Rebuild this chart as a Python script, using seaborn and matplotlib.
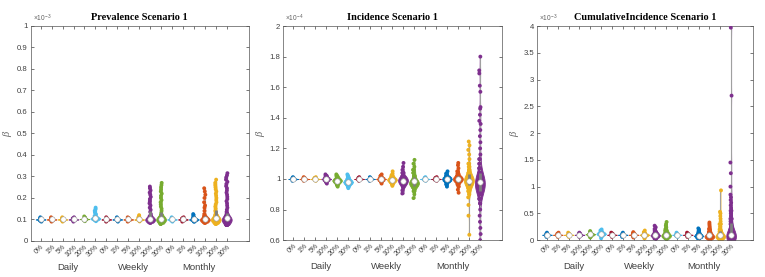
import numpy as np
import pandas as pd
import matplotlib
matplotlib.use("Agg")
import matplotlib.pyplot as plt
import matplotlib.transforms as mtransforms
import seaborn as sns

groups = ["Daily", "Weekly", "Monthly"]
pcts = ["0%", "1%", "5%", "10%", "20%", "30%"]
# matlab default colour order, cycled over the 18 violins
mcolors = ["#0072BD", "#D95319", "#EDB120", "#7E2F8E", "#77AC30", "#4DBEEE", "#A2142F"]

titles = ["Prevalence Scenario 1", "Incidence Scenario 1", "CumulativeIncidence Scenario 1"]
exponents = ["-3", "-4", "-3"]
ylims = [(0, 1), (0.6, 2), (0, 4)]
yticks = [
    [0, 0.1, 0.2, 0.3, 0.4, 0.5, 0.6, 0.7, 0.8, 0.9, 1],
    [0.6, 0.8, 1, 1.2, 1.4, 1.6, 1.8, 2],
    [0, 0.5, 1, 1.5, 2, 2.5, 3, 3.5, 4],
]

# Prevalence (x1e-3): sample levels and how many samples sit at each level
prev_levels = [
    [0.09, 0.095, 0.1, 0.105, 0.11],
    [0.09, 0.095, 0.1, 0.105, 0.11],
    [0.09, 0.095, 0.1, 0.105, 0.11],
    [0.09, 0.095, 0.1, 0.105, 0.11],
    [0.092, 0.097, 0.102, 0.107, 0.114],
    [0.092, 0.098, 0.104, 0.11, 0.116, 0.124, 0.132, 0.14, 0.148, 0.155],
    [0.09, 0.095, 0.1, 0.105, 0.11],
    [0.09, 0.095, 0.1, 0.105, 0.11],
    [0.09, 0.095, 0.1, 0.105, 0.11],
    [0.091, 0.096, 0.1, 0.105, 0.11, 0.115, 0.12],
    [0.085, 0.092, 0.1, 0.108, 0.115, 0.125, 0.135, 0.145, 0.155, 0.165, 0.175, 0.185,
     0.195, 0.205, 0.215, 0.225, 0.235, 0.245, 0.253],
    [0.08, 0.09, 0.1, 0.11, 0.12, 0.13, 0.14, 0.15, 0.16, 0.17, 0.18, 0.19, 0.2, 0.21,
     0.22, 0.23, 0.24, 0.25, 0.26, 0.27],
    [0.09, 0.095, 0.1, 0.105, 0.11],
    [0.09, 0.095, 0.1, 0.105, 0.11],
    [0.09, 0.095, 0.1, 0.105, 0.11, 0.117, 0.125],
    [0.085, 0.092, 0.1, 0.108, 0.115, 0.125, 0.14, 0.155, 0.165, 0.18, 0.2, 0.215, 0.23, 0.245],
    [0.08, 0.09, 0.1, 0.11, 0.12, 0.13, 0.14, 0.15, 0.16, 0.17, 0.18, 0.19, 0.2, 0.21,
     0.22, 0.23, 0.24, 0.25, 0.26, 0.27, 0.285],
    [0.074, 0.085, 0.095, 0.105, 0.115, 0.125, 0.135, 0.145, 0.155, 0.165, 0.175, 0.185,
     0.195, 0.205, 0.215, 0.225, 0.235, 0.245, 0.255, 0.265, 0.275, 0.285, 0.295, 0.305, 0.315],
]
prev_counts = [
    [1, 3, 6, 3, 1],
    [1, 3, 6, 3, 1],
    [1, 3, 6, 3, 1],
    [1, 3, 6, 3, 1],
    [1, 3, 6, 3, 1],
    [1, 3, 6, 3, 2, 1, 1, 1, 1, 1],
    [1, 3, 6, 3, 1],
    [1, 3, 6, 3, 1],
    [1, 3, 6, 3, 1],
    [1, 3, 6, 3, 2, 1, 1],
    [4, 8, 12, 6, 3, 1, 1, 1, 1, 1, 1, 1, 1, 1, 1, 1, 1, 1, 1],
    [5, 9, 14, 8, 4, 1, 1, 1, 1, 1, 1, 1, 1, 1, 1, 1, 1, 1, 1, 1],
    [1, 3, 6, 3, 1],
    [1, 3, 6, 3, 1],
    [2, 4, 6, 4, 2, 1, 1],
    [4, 8, 12, 6, 3, 1, 1, 1, 1, 1, 1, 1, 1, 1],
    [5, 9, 14, 8, 4, 1, 1, 1, 1, 1, 1, 1, 1, 1, 1, 1, 1, 1, 1, 1, 1],
    [6, 10, 14, 14, 8, 4, 1, 1, 1, 1, 1, 1, 1, 1, 1, 1, 1, 1, 1, 1, 1, 1, 1, 1, 1],
]

# Incidence (x1e-4)
inc_levels = [
    [0.988, 0.994, 1.0, 1.006, 1.012],
    [0.988, 0.994, 1.0, 1.006, 1.012],
    [0.988, 0.994, 1.0, 1.006, 1.012],
    [0.97, 0.98, 0.99, 1.0, 1.01, 1.02, 1.03],
    [0.95, 0.96, 0.97, 0.98, 0.99, 1.0, 1.01, 1.02, 1.03],
    [0.94, 0.95, 0.96, 0.97, 0.98, 0.99, 1.0, 1.01, 1.02, 1.03],
    [0.988, 0.994, 1.0, 1.006, 1.012],
    [0.988, 0.994, 1.0, 1.006, 1.012],
    [0.97, 0.98, 0.99, 1.0, 1.01, 1.02, 1.03],
    [0.955, 0.965, 0.975, 0.985, 0.995, 1.005, 1.015, 1.025, 1.035, 1.05],
    [0.905, 0.925, 0.945, 0.96, 0.975, 0.99, 1.005, 1.02, 1.04, 1.06, 1.08, 1.105],
    [0.875, 0.9, 0.92, 0.94, 0.955, 0.97, 0.985, 1.0, 1.02, 1.04, 1.06, 1.08, 1.1, 1.125],
    [0.988, 0.994, 1.0, 1.006, 1.012],
    [0.988, 0.994, 1.0, 1.006, 1.012],
    [0.95, 0.965, 0.98, 0.99, 1.0, 1.01, 1.02, 1.035, 1.05],
    [0.91, 0.93, 0.95, 0.965, 0.98, 0.99, 1.0, 1.01, 1.02, 1.035, 1.05, 1.07, 1.09, 1.105],
    [0.635, 0.76, 0.83, 0.88, 0.9, 0.92, 0.94, 0.96, 0.975, 0.99, 1.005, 1.02, 1.04, 1.06,
     1.08, 1.1, 1.13, 1.16, 1.19, 1.22, 1.245],
    [0.52, 0.56, 0.6, 0.64, 0.68, 0.72, 0.76, 0.8, 0.84, 0.87, 0.9, 0.92, 0.94, 0.96, 0.98,
     1.0, 1.02, 1.04, 1.07, 1.1, 1.13, 1.16, 1.2, 1.24, 1.28, 1.32, 1.36, 1.38, 1.42, 1.46,
     1.47, 1.57, 1.61, 1.69, 1.71, 1.8],
]
inc_counts = [
    [1, 3, 6, 3, 1],
    [1, 3, 6, 3, 1],
    [1, 3, 6, 3, 1],
    [1, 2, 4, 6, 4, 2, 1],
    [1, 2, 3, 5, 6, 5, 3, 2, 1],
    [1, 2, 3, 5, 6, 5, 3, 2, 1, 1],
    [1, 3, 6, 3, 1],
    [1, 3, 6, 3, 1],
    [1, 2, 4, 6, 4, 2, 1],
    [1, 2, 3, 5, 6, 5, 3, 2, 1, 1],
    [1, 1, 2, 4, 6, 7, 6, 4, 2, 1, 1, 1],
    [1, 1, 2, 3, 5, 7, 6, 4, 3, 2, 2, 1, 1, 1],
    [1, 3, 6, 3, 1],
    [1, 3, 6, 3, 1],
    [1, 2, 4, 6, 7, 6, 4, 2, 1],
    [1, 1, 2, 3, 5, 6, 7, 6, 5, 3, 2, 1, 1, 1],
    [1, 1, 1, 1, 2, 3, 4, 6, 7, 8, 7, 6, 4, 3, 2, 2, 1, 1, 1, 1, 1],
    [1, 1, 1, 1, 1, 1, 1, 1, 2, 3, 4, 6, 8, 9, 9, 8, 6, 4, 3, 2, 2, 1, 1, 1, 1, 1, 1, 1,
     1, 1, 1, 1, 1, 1, 1, 1],
]

# Cumulative incidence (x1e-3)
cum_levels = [
    [0.06, 0.08, 0.1, 0.12, 0.14],
    [0.06, 0.08, 0.1, 0.12, 0.14],
    [0.06, 0.08, 0.1, 0.12, 0.14],
    [0.06, 0.08, 0.1, 0.12, 0.14],
    [0.05, 0.07, 0.09, 0.11, 0.13, 0.15, 0.17],
    [0.035, 0.06, 0.08, 0.1, 0.12, 0.14, 0.16, 0.18, 0.2],
    [0.06, 0.08, 0.1, 0.12, 0.14],
    [0.06, 0.08, 0.1, 0.12, 0.14],
    [0.05, 0.075, 0.1, 0.125, 0.15],
    [0.03, 0.06, 0.08, 0.1, 0.12, 0.15, 0.18],
    [0.0, 0.03, 0.06, 0.09, 0.12, 0.15, 0.18, 0.21, 0.24, 0.27],
    [0.0, 0.03, 0.06, 0.09, 0.12, 0.15, 0.18, 0.21, 0.24, 0.27, 0.3, 0.34],
    [0.06, 0.08, 0.1, 0.12, 0.14],
    [0.06, 0.08, 0.1, 0.12, 0.14],
    [0.02, 0.05, 0.08, 0.11, 0.14, 0.17, 0.2, 0.22],
    [0.0, 0.03, 0.06, 0.09, 0.12, 0.15, 0.18, 0.21, 0.24, 0.27, 0.3, 0.33],
    [0.0, 0.03, 0.06, 0.09, 0.12, 0.16, 0.2, 0.25, 0.3, 0.35, 0.4, 0.45, 0.5, 0.53, 0.93],
    [0.0, 0.03, 0.06, 0.09, 0.12, 0.16, 0.2, 0.25, 0.3, 0.35, 0.4, 0.45, 0.5, 0.55, 0.6,
     0.65, 0.7, 0.75, 0.8, 0.85, 1.0, 1.25, 1.45, 2.7, 3.97],
]
cum_counts = [
    [1, 3, 6, 3, 1],
    [1, 3, 6, 3, 1],
    [1, 3, 6, 3, 1],
    [1, 3, 6, 3, 1],
    [1, 2, 4, 6, 4, 2, 1],
    [1, 1, 3, 5, 6, 5, 3, 1, 1],
    [1, 3, 6, 3, 1],
    [1, 3, 6, 3, 1],
    [1, 3, 6, 3, 1],
    [1, 2, 4, 6, 4, 2, 1],
    [1, 3, 6, 8, 6, 4, 2, 1, 1, 1],
    [1, 4, 7, 8, 6, 4, 3, 2, 1, 1, 1, 1],
    [1, 3, 6, 3, 1],
    [1, 3, 6, 3, 1],
    [2, 5, 7, 5, 3, 2, 1, 1],
    [2, 5, 7, 6, 4, 3, 2, 2, 1, 1, 1, 1],
    [3, 7, 10, 8, 6, 4, 3, 2, 2, 1, 1, 1, 1, 1, 1],
    [6, 12, 16, 10, 6, 4, 3, 3, 2, 2, 2, 2, 2, 2, 1, 1, 1, 1, 1, 1, 1, 1, 1, 1, 1],
]

panels = [(prev_levels, prev_counts), (inc_levels, inc_counts), (cum_levels, cum_counts)]

cats = [g + " " + p for g in groups for p in pcts]
pal = {c: mcolors[i % 7] for i, c in enumerate(cats)}

sns.set_style("ticks")
plt.rcParams["font.family"] = ["Liberation Sans", "DejaVu Sans"]
plt.rcParams["mathtext.fontset"] = "custom"
plt.rcParams["mathtext.rm"] = "Liberation Sans"
plt.rcParams["mathtext.it"] = "Liberation Serif:italic"

fig = plt.figure(figsize=(7.65, 2.77), dpi=100)
rects = [[0.040, 0.130, 0.285, 0.777], [0.370, 0.133, 0.286, 0.773], [0.702, 0.133, 0.282, 0.773]]
axcol = "#404040"

for k, (levels, counts) in enumerate(panels):
    ax = fig.add_axes(rects[k])
    samples = [np.repeat(l, c) for l, c in zip(levels, counts)]
    df = pd.DataFrame({
        "cat": np.repeat(cats, [len(s) for s in samples]),
        "val": np.concatenate(samples),
    })
    sns.violinplot(data=df, x="cat", y="val", hue="cat", order=cats, hue_order=cats,
                   palette=pal, legend=False, inner=None, cut=0, density_norm="width",
                   width=0.9, bw_adjust=0.45, saturation=1, linewidth=0.6, ax=ax)
    for coll in ax.collections:
        coll.set_edgecolor(coll.get_facecolor())
    sns.stripplot(data=df, x="cat", y="val", hue="cat", order=cats, hue_order=cats,
                  palette=pal, legend=False, jitter=0.07, size=2.8, linewidth=0, ax=ax, zorder=3)
    for i, s in enumerate(samples):
        q1, med, q3 = np.percentile(s, [25, 50, 75])
        ax.vlines(i, s.min(), s.max(), color="#a0a0a0", lw=0.8, zorder=2)
        ax.vlines(i, q1, q3, color="#7f7f7f", lw=2.0, zorder=4)
        ax.scatter([i], [med], s=15, c="white", edgecolors="#9a9a9a", linewidths=0.4, zorder=5)

    ax.set_xlim(-0.92, 19)
    ax.set_ylim(*ylims[k])
    ax.set_yticks(yticks[k])
    ax.set_yticklabels([f"{t:g}" for t in yticks[k]])
    ax.set_xticks(range(len(cats)))
    ax.set_xticklabels(pcts * 3, rotation=45, ha="right", rotation_mode="anchor")
    ax.set_xlabel("")
    ax.set_ylabel(r"$\beta$", fontsize=7.5, color="#606060", labelpad=2)
    ax.tick_params(direction="in", top=True, right=True, length=2, width=0.5,
                   labelsize=5.6, colors=axcol, pad=2)
    ax.tick_params(axis="x", labelsize=5, pad=1.5)
    for sp in ax.spines.values():
        sp.set_linewidth(0.5)
        sp.set_color("#555555")
    ax.set_title(titles[k], fontsize=7.4, fontweight="bold", family="Liberation Serif",
                 color="black", pad=4)
    ax.text(0.01, 1.008, r"$\times\mathregular{10^{" + exponents[k] + "}}$", transform=ax.transAxes,
            fontsize=4.8, color="#606060", ha="left", va="bottom")
    trans = mtransforms.blended_transform_factory(ax.transData, ax.transAxes)
    for j, g in enumerate(groups):
        ax.text(j * 6 + 2.5, -0.125, g, transform=trans, ha="center", va="center",
                fontsize=6.8, color=axcol)

fig.savefig("out.png", dpi=100)
